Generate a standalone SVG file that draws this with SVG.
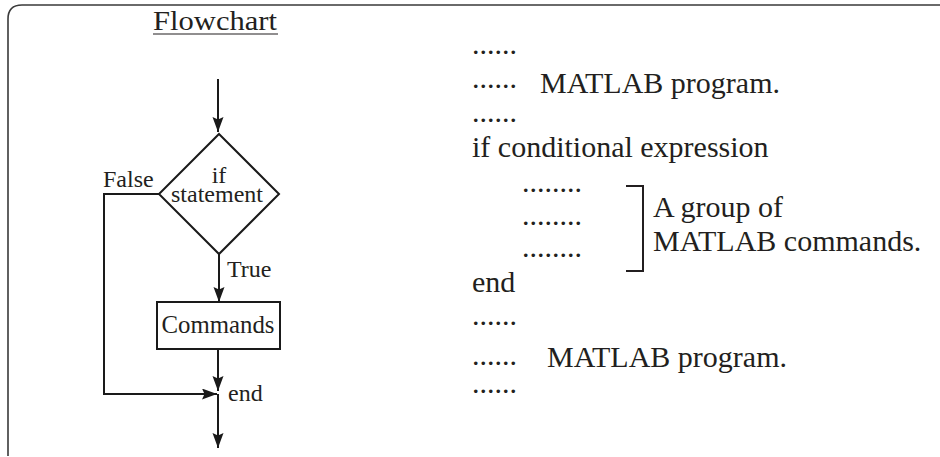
<svg xmlns="http://www.w3.org/2000/svg" width="940" height="457" viewBox="0 0 940 457">
<defs>
<marker id="ah" markerUnits="userSpaceOnUse" markerWidth="16" markerHeight="12" refX="15" refY="5.5" orient="auto">
<path d="M0,0 L15,5.5 L0,11 L2.5,5.5 z" fill="#1a1a1a"/>
</marker>
<style>
text{font-family:"Liberation Serif","Times New Roman",serif;fill:#231f20}
.s{font-size:24px}
.r{font-size:30px}
.ln{fill:none;stroke:#1a1a1a;stroke-width:2}
.ar{fill:none;stroke:#1a1a1a;stroke-width:2;marker-end:url(#ah)}
</style>
</defs>
<rect width="940" height="457" fill="#fff"/>
<path d="M8,456 L8,19 Q8,5 22,5 L940,5" fill="none" stroke="#3a3a3a" stroke-width="1.6"/>
<g id="title">
<text x="215" y="30" font-size="28" text-anchor="middle" textLength="124" lengthAdjust="spacingAndGlyphs">Flowchart</text>
<line x1="153" y1="34" x2="278" y2="34" stroke="#231f20" stroke-width="1.2"/>
</g>
<g id="connectors">
<line class="ar" x1="218" y1="79" x2="218" y2="132"/>
<polyline class="ln" points="160,194 104,194 104,394"/>
<line class="ar" x1="103" y1="394" x2="217" y2="394"/>
<line class="ar" x1="219" y1="253" x2="219" y2="302"/>
<line class="ar" x1="218" y1="349" x2="218" y2="391"/>
<line class="ar" x1="218" y1="394" x2="218" y2="448"/>
<text class="s" x="103" y="187">False</text>
<text class="s" x="227" y="277">True</text>
<text class="s" x="228" y="401">end</text>
</g>
<g id="decision">
<polygon class="ln" points="219,134 279,194 219,254 159,194"/>
<text class="s" text-anchor="middle"><tspan x="219" y="183">if</tspan><tspan x="217" y="202">statement</tspan></text>
</g>
<g id="commands">
<rect class="ln" x="157" y="302" width="123" height="47"/>
<text class="s" x="218" y="333" text-anchor="middle" font-size="24.8" style="font-size:24.8px">Commands</text>
</g>
<g id="code">
<text class="r"><tspan x="472" y="54">......</tspan><tspan x="472" y="88">......</tspan><tspan x="540" y="93">MATLAB program.</tspan><tspan x="472" y="122">......</tspan><tspan x="472" y="157">if conditional expression</tspan><tspan x="522" y="192">........</tspan><tspan x="522" y="225">........</tspan><tspan x="522" y="257">........</tspan><tspan x="472" y="292">end</tspan><tspan x="472" y="325">......</tspan><tspan x="472" y="365">......</tspan><tspan x="547" y="367">MATLAB program.</tspan><tspan x="472" y="393">......</tspan></text>
</g>
<g id="group">
<polyline points="626,186 643,186 643,271 626,271" fill="none" stroke="#231f20" stroke-width="2"/>
<text class="r"><tspan x="653" y="217">A group of</tspan><tspan x="653" y="251">MATLAB commands.</tspan></text>
</g>
</svg>
